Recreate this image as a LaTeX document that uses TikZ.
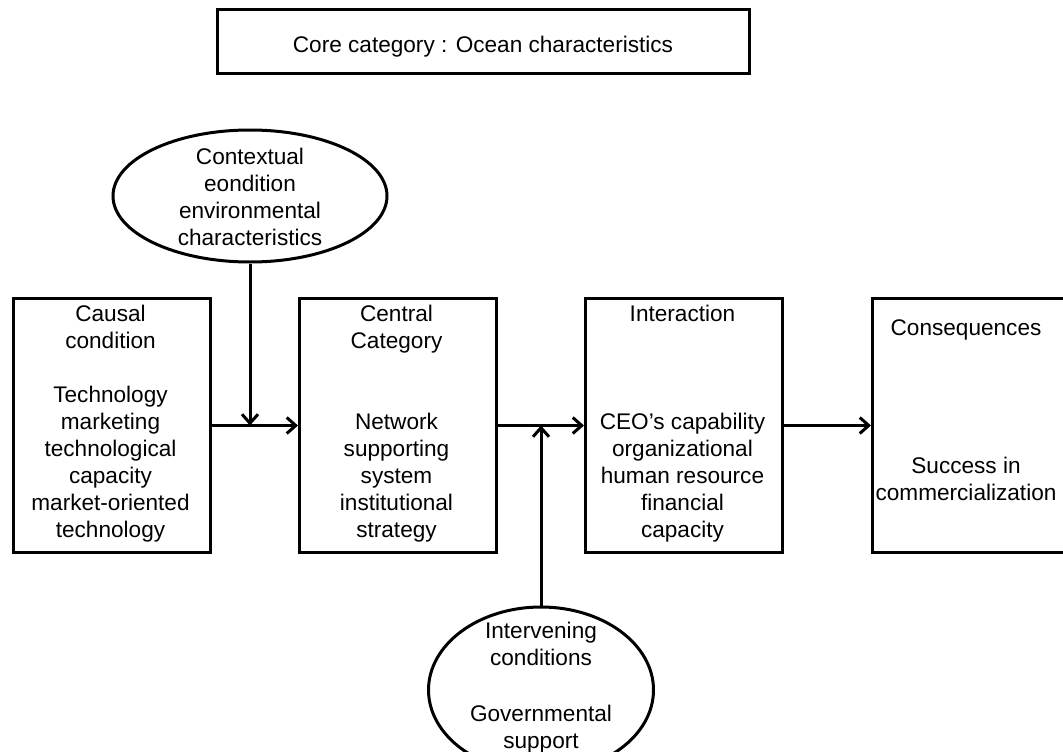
\documentclass[tikz,border=0pt]{standalone}
\usepackage{fontspec}
\setmainfont{Liberation Sans}
\usetikzlibrary{shapes.geometric,arrows.meta}
\begin{document}
\begin{tikzpicture}[x=1pt,y=-1pt,
  box/.style={draw,line width=3pt,minimum width=197pt,minimum height=254pt,inner sep=0pt,anchor=north west},
  oval/.style={draw,ellipse,line width=3pt,inner sep=0pt},
  txt/.style={align=center,inner sep=0pt,font=\fontsize{22.6pt}{27pt}\selectfont,anchor=north},
  conn/.style={line width=3pt,-{Straight Barb[length=9pt,width=16pt,line width=3pt]}}]
\useasboundingbox (0,0) rectangle (1063,752);
% top box
\node[draw,line width=3pt,minimum width=532pt,minimum height=64pt,inner sep=0pt] (core) at (483,41.5) {};
\node[txt,anchor=base] (coret) at (483,52.5) {Core category : Ocean characteristics};
% boxes
\node[box] (b1) at (12,297) {};
\node[box] (b2) at (298,297) {};
\node[box] (b3) at (584,297) {};
\node[box,minimum width=220pt] (b4) at (871,297) {};
% box texts
\node[txt] (t1) at (110.5,305) {Causal\\condition\\[27pt]Technology\\marketing\\technological\\capacity\\market-oriented\\technology};
\node[txt] (t2) at (396.5,305) {Central\\Category\\[54pt]Network\\supporting\\system\\institutional\\strategy};
\node[txt] (t3) at (682.5,305) {Interaction\\[81pt]CEO’s capability\\organizational\\human resource\\financial\\capacity};
\node[txt] (t4) at (966,320) {Consequences\\[111pt]Success in\\commercialization};
% ellipses
\node[oval,minimum width=274pt,minimum height=132pt] (ctx) at (250,196) {};
\node[txt,anchor=center] (ctxt) at (250,197) {Contextual\\eondition\\environmental\\characteristics};
\node[oval,minimum width=225pt,minimum height=166pt] (iv) at (541,690) {};
\node[txt] (ivt) at (541,622) {Intervening\\conditions\\[29pt]Governmental\\support};
% connectors
\coordinate (j1) at (ctx.south |- b1.east);
\coordinate (j2) at (iv.north |- b2.east);
\draw[conn] (b1.east) -- (b2.west);
\draw[conn] (b2.east) -- (b3.west);
\draw[conn] (b3.east) -- (b4.west);
\draw[conn] (ctx.south) -- (j1);
\draw[conn] (iv.north) -- (j2);
\end{tikzpicture}
\end{document}
